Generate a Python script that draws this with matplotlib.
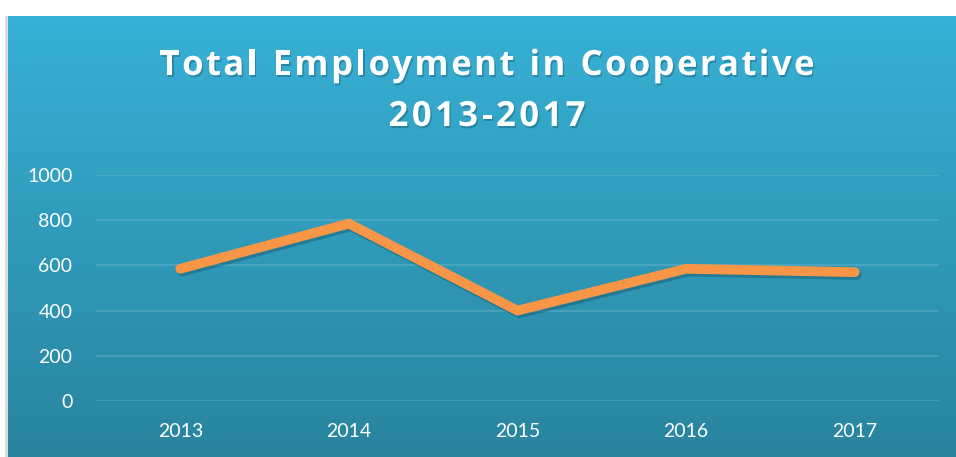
import numpy as np
import matplotlib.pyplot as plt
import matplotlib.patheffects as pe
from matplotlib.patches import Rectangle

# data
years = ['2013', '2014', '2015', '2016', '2017']
employment = [585, 785, 400, 585, 570]
y_ticks = [0, 200, 400, 600, 800, 1000]
title_lines = ['Total Employment in Cooperative', '2013-2017']

W, H = 956, 457
fig = plt.figure(figsize=(W / 100, H / 100), dpi=100)
fig.patch.set_facecolor('white')

# panel with vertical gradient
bg = fig.add_axes([8 / W, 0, 1 - 8 / W, 1 - 16 / H], zorder=0)
top = np.array([55, 177, 214]) / 255
bot = np.array([41, 132, 158]) / 255
t = np.linspace(0, 1, 256)[:, None]
grad = top * (1 - t) + bot * t
bg.imshow(grad[:, None, :].repeat(2, axis=1), aspect='auto', extent=[0, 1, 0, 1])
bg.set_axis_off()

# thin shadow at left edge of panel
fig.patches.append(Rectangle((5 / W, 0), 3 / W, 1 - 16 / H, transform=fig.transFigure,
                             facecolor='#dcdcdc', edgecolor='none', zorder=-1))

ax = fig.add_axes([96 / W, 1 - 401 / H, 843 / W, 226 / H], zorder=1)
ax.patch.set_alpha(0)
x = np.arange(len(years))
ax.plot(x, employment, color='#f79646', lw=7, solid_capstyle='round',
        solid_joinstyle='miter', clip_on=False,
        path_effects=[pe.SimpleLineShadow(offset=(1.5, -2), shadow_color='#0a3a4a', alpha=0.3),
                      pe.Normal()])
ax.set_xlim(-0.5, len(years) - 0.5)
ax.set_ylim(0, 1000)
ax.set_yticks(y_ticks)
ax.set_xticks(x)
ax.set_xticklabels(years)
for s in ax.spines.values():
    s.set_visible(False)
ax.tick_params(length=0, colors='white', labelsize=14)
ax.tick_params(axis='y', pad=17)
ax.tick_params(axis='x', pad=16)
for lab in ax.get_xticklabels() + ax.get_yticklabels():
    lab.set_fontfamily('Lato')
ax.grid(axis='y', color='white', alpha=0.15, lw=1.2)
ax.set_axisbelow(True)

# title with extra letter spacing, drawn char by char
title_fx = [pe.withSimplePatchShadow(offset=(1, -1.5), shadow_rgbFace='#0a3a4a', alpha=0.3)]
renderer = fig.canvas.get_renderer()
for line, yc, track in zip(title_lines, [66, 117], [2.4, 3.4]):
    widths = []
    for ch in line:
        tt = fig.text(0, 0, ch if ch != ' ' else 'n', fontsize=25, fontweight='bold',
                      family='Open Sans')
        w = tt.get_window_extent(renderer).width
        if ch == ' ':
            w *= 0.45
        widths.append(w)
        tt.remove()
    total = sum(widths) + track * (len(line) - 1)
    xpos = 487 - total / 2
    for ch, w in zip(line, widths):
        if ch != ' ':
            fig.text(xpos / W, 1 - yc / H, ch, ha='left', va='center',
                     fontsize=25, fontweight='bold', family='Open Sans', color='white',
                     path_effects=title_fx)
        xpos += w + track

fig.savefig('out.png', dpi=100)
